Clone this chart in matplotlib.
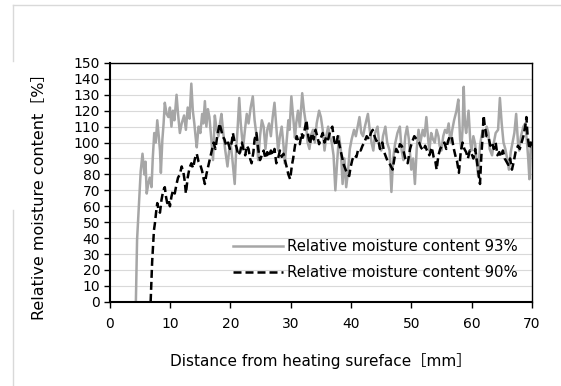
import matplotlib
matplotlib.use("Agg")
import matplotlib.pyplot as plt
from matplotlib.lines import Line2D

# Relative moisture content 93% (distance mm, value %)
x93 = [4.3, 4.5, 4.8, 5.1, 5.4, 5.7, 5.9, 6.1, 6.35, 6.6, 6.9, 7.1, 7.35, 7.6, 7.85, 8.1, 8.3, 8.45, 8.7, 8.9,
       9.1, 9.4, 9.7, 9.95, 10.2, 10.45, 10.7, 11.05, 11.3, 11.6, 11.9, 12.3, 12.6, 12.9, 13.2, 13.5, 13.75, 14.0, 14.2, 14.4,
       14.7, 15.0, 15.3, 15.5, 15.75, 16.0, 16.25, 16.5, 16.8, 17.1, 17.4, 17.7, 18.0, 18.25, 18.5, 18.8, 19.1, 19.5, 19.75, 20.0,
       20.3, 20.7, 20.95, 21.2, 21.45, 21.7, 21.9, 22.1, 22.4, 22.7, 23.0, 23.35, 23.7, 24.0, 24.3, 24.6, 24.9, 25.2, 25.5, 25.8,
       26.1, 26.4, 26.7, 27.0, 27.3, 27.6, 27.9, 28.2, 28.5, 28.8, 29.0, 29.3, 29.6, 29.8, 30.1, 30.4, 30.7, 30.9, 31.2, 31.5,
       31.9, 32.2, 32.5, 32.8, 33.1, 33.4, 33.7, 34.0, 34.3, 34.7, 35.0, 35.3, 35.6, 35.9, 36.2, 36.5, 36.8, 37.1, 37.4, 37.7,
       38.0, 38.3, 38.6, 38.9, 39.2, 39.5, 39.8, 40.1, 40.5, 40.8, 41.1, 41.4, 41.7, 42.0, 42.3, 42.8, 43.1, 43.4, 43.7, 44.0,
       44.4, 44.7, 45.0, 45.3, 45.7, 46.0, 46.4, 46.7, 47.0, 47.3, 47.7, 48.1, 48.4, 48.7, 49.0, 49.3, 49.6, 50.0, 50.3, 50.6,
       50.9, 51.2, 51.5, 51.9, 52.2, 52.5, 52.8, 53.0, 53.3, 53.6, 53.9, 54.2, 54.5, 54.7, 55.0, 55.3, 55.6, 55.9, 56.2, 56.5,
       56.8, 57.1, 57.5, 57.8, 58.1, 58.3, 58.5, 58.7, 58.9, 59.1, 59.5, 59.8, 60.0, 60.3, 60.6, 60.8, 61.1, 61.4, 61.6, 61.9,
       62.2, 62.5, 62.8, 63.0, 63.4, 63.7, 64.0, 64.4, 64.7, 65.0, 65.3, 65.6, 65.9, 66.2, 66.5, 66.8, 67.1, 67.4, 67.7, 67.9,
       68.2, 68.6, 68.9, 69.2, 69.4, 69.6, 69.8, 70.0]
y93 = [0, 39, 60, 82, 93, 80, 88, 68, 74, 78, 72, 90, 106, 100, 114, 104, 95, 81, 102, 112,
       125, 118, 116, 122, 110, 120, 114, 130, 118, 106, 112, 117, 108, 122, 115, 137, 120, 112, 104, 97,
       110, 106, 118, 112, 126, 110, 121, 116, 103, 89, 117, 108, 104, 112, 118, 106, 96, 85, 94, 100,
       90, 74, 96, 110, 128, 112, 104, 97, 108, 118, 112, 122, 129, 114, 105, 89, 104, 114, 110, 96,
       108, 112, 104, 116, 125, 110, 95, 104, 110, 98, 87, 100, 114, 108, 129, 116, 103, 112, 120, 110,
       131, 120, 112, 100, 96, 105, 108, 100, 112, 120, 116, 108, 95, 104, 110, 104, 100, 92, 70, 88,
       104, 96, 74, 90, 72, 82, 96, 102, 108, 104, 110, 116, 106, 104, 110, 118, 108, 100, 95, 106,
       110, 98, 95, 104, 110, 100, 95, 69, 90, 99, 106, 110, 95, 89, 104, 110, 102, 83, 90, 74,
       96, 108, 100, 108, 104, 116, 102, 95, 106, 102, 100, 108, 104, 98, 95, 104, 108, 106, 112, 100,
       108, 114, 120, 127, 102, 96, 108, 135, 112, 106, 120, 100, 95, 104, 99, 90, 79, 98, 103, 108,
       104, 110, 106, 96, 92, 100, 106, 108, 128, 112, 100, 96, 90, 83, 94, 100, 106, 118, 100, 95,
       104, 110, 112, 100, 90, 77, 96, 100]

# Relative moisture content 90% (distance mm, value %)
x90 = [6.75, 7.0, 7.3, 7.45, 7.65, 7.85, 8.05, 8.3, 8.55, 8.85, 9.1, 9.3, 9.5, 9.75, 9.95, 10.2, 10.45, 10.75, 11.05, 11.3,
       11.6, 11.9, 12.2, 12.4, 12.6, 12.9, 13.2, 13.5, 13.8, 14.1, 14.4, 14.7, 15.0, 15.3, 15.5, 15.75, 16.0, 16.3, 16.6, 16.9,
       17.2, 17.5, 17.8, 18.0, 18.2, 18.45, 18.7, 19.0, 19.3, 19.6, 19.9, 20.2, 20.4, 20.7, 21.0, 21.3, 21.6, 21.9, 22.2, 22.45,
       22.7, 23.0, 23.25, 23.5, 23.8, 24.0, 24.3, 24.6, 24.9, 25.2, 25.5, 25.8, 26.1, 26.4, 26.7, 27.0, 27.3, 27.6, 27.9, 28.2,
       28.5, 28.8, 29.1, 29.3, 29.6, 29.9, 30.2, 30.4, 30.7, 31.0, 31.3, 31.5, 31.8, 32.0, 32.3, 32.6, 32.9, 33.2, 33.5, 33.8,
       34.1, 34.4, 34.7, 35.0, 35.3, 35.6, 35.9, 36.2, 36.6, 36.9, 37.2, 37.5, 37.8, 38.1, 38.5, 38.8, 39.1, 39.4, 39.7, 39.9,
       40.2, 40.5, 40.9, 41.2, 41.6, 41.9, 42.2, 42.6, 43.0, 43.3, 43.6, 43.9, 44.2, 44.5, 44.8, 45.2, 45.5, 45.8, 46.1, 46.5,
       46.9, 47.2, 47.5, 47.8, 48.1, 48.4, 48.7, 49.0, 49.4, 49.8, 50.1, 50.5, 50.9, 51.3, 51.6, 52.0, 52.3, 52.6, 53.0, 53.4,
       53.7, 54.0, 54.2, 54.5, 54.8, 55.1, 55.5, 55.8, 56.1, 56.4, 56.7, 57.0, 57.3, 57.6, 57.9, 58.2, 58.5, 58.8, 59.1, 59.4,
       59.7, 60.0, 60.3, 60.6, 60.9, 61.1, 61.4, 61.6, 61.8, 62.0, 62.2, 62.5, 62.8, 63.1, 63.4, 63.7, 64.0, 64.3, 64.6, 64.9,
       65.2, 65.5, 65.8, 66.1, 66.4, 66.7, 67.0, 67.3, 67.7, 68.0, 68.3, 68.6, 68.9, 69.1, 69.3, 69.6, 69.8, 70.0]
y90 = [0, 25, 45, 49, 56, 62, 58, 56, 64, 70, 72, 66, 62, 64, 60, 66, 70, 68, 74, 78,
       80, 85, 81, 76, 68, 78, 84, 87, 84, 90, 93, 88, 86, 82, 78, 74, 80, 85, 90, 95,
       100, 96, 104, 108, 112, 108, 104, 102, 98, 100, 96, 100, 106, 100, 97, 92, 94, 100, 95, 92,
       98, 96, 90, 87, 94, 102, 106, 96, 89, 92, 95, 90, 94, 91, 95, 92, 96, 87, 90, 95,
       91, 93, 88, 85, 80, 77, 86, 90, 98, 104, 100, 99, 106, 103, 108, 114, 104, 99, 106, 102,
       108, 104, 99, 103, 106, 100, 104, 102, 108, 110, 101, 98, 104, 98, 91, 86, 83, 80, 79, 84,
       89, 92, 91, 96, 95, 98, 100, 104, 102, 106, 108, 104, 101, 102, 96, 100, 94, 91, 88, 86,
       83, 90, 96, 94, 99, 98, 95, 90, 87, 96, 100, 104, 102, 100, 97, 95, 98, 95, 92, 97,
       91, 88, 83, 92, 96, 98, 100, 96, 101, 104, 104, 97, 92, 88, 81, 94, 100, 96, 94, 90,
       95, 93, 90, 96, 88, 82, 74, 90, 102, 117, 110, 104, 104, 98, 100, 96, 100, 92, 94, 91,
       95, 90, 88, 86, 90, 83, 88, 94, 98, 96, 100, 104, 110, 116, 104, 96, 100, 98]

label93 = "Relative moisture content 93%"
label90 = "Relative moisture content 90%"

fonts = ["DejaVu Sans", "Noto Sans CJK JP"]

fig = plt.figure(figsize=(5.61, 3.86), dpi=100)
ax = fig.add_axes([0.196, 0.218, 0.752, 0.619])

ax.plot(x93, y93, color="#a6a6a6", lw=1.8, label=label93)
ax.plot(x90, y90, color="black", lw=1.8, linestyle=(0, (3.2, 1.6)), label=label90)

ax.set_xlim(0, 70)
ax.set_ylim(0, 150)
ax.set_xticks(range(0, 71, 10))
ax.set_yticks(range(0, 151, 10))
ax.yaxis.grid(True, color="#d9d9d9", lw=0.8)
ax.set_axisbelow(True)

for s in ["top", "right"]:
    ax.spines[s].set_linewidth(1.0)
for s in ["left", "bottom"]:
    ax.spines[s].set_linewidth(1.5)
ax.tick_params(direction="out", length=4, width=1, labelsize=10)
ax.tick_params(axis="x", pad=7)
ax.tick_params(axis="y", pad=3)
for lab in ax.get_xticklabels() + ax.get_yticklabels():
    lab.set_family("DejaVu Sans")

ax.set_xlabel("Distance from heating sureface［mm］", fontsize=11, family=fonts)
ax.xaxis.set_label_coords(0.5, -0.215)
ax.set_ylabel("Relative moisture content［%］", fontsize=11.5, family=fonts)
ax.yaxis.set_label_coords(-0.15, 0.456)

ax.legend(loc="center left", bbox_to_anchor=(0.2915, 0.176), frameon=False,
          prop={"family": "DejaVu Sans", "size": 10.7}, handlelength=3.36,
          handletextpad=0.27, labelspacing=0.72, borderpad=0, borderaxespad=0)

# light outer chart border
fig.add_artist(Line2D([13 / 561, 1], [1 - 5 / 386] * 2, color="#d9d9d9", lw=1))
fig.add_artist(Line2D([13 / 561] * 2, [1 - 5 / 386, 1 - 61 / 386], color="#d9d9d9", lw=1))
fig.add_artist(Line2D([13 / 561] * 2, [1 - 210 / 386, 0], color="#d9d9d9", lw=1))

fig.savefig("out.png", dpi=100)
